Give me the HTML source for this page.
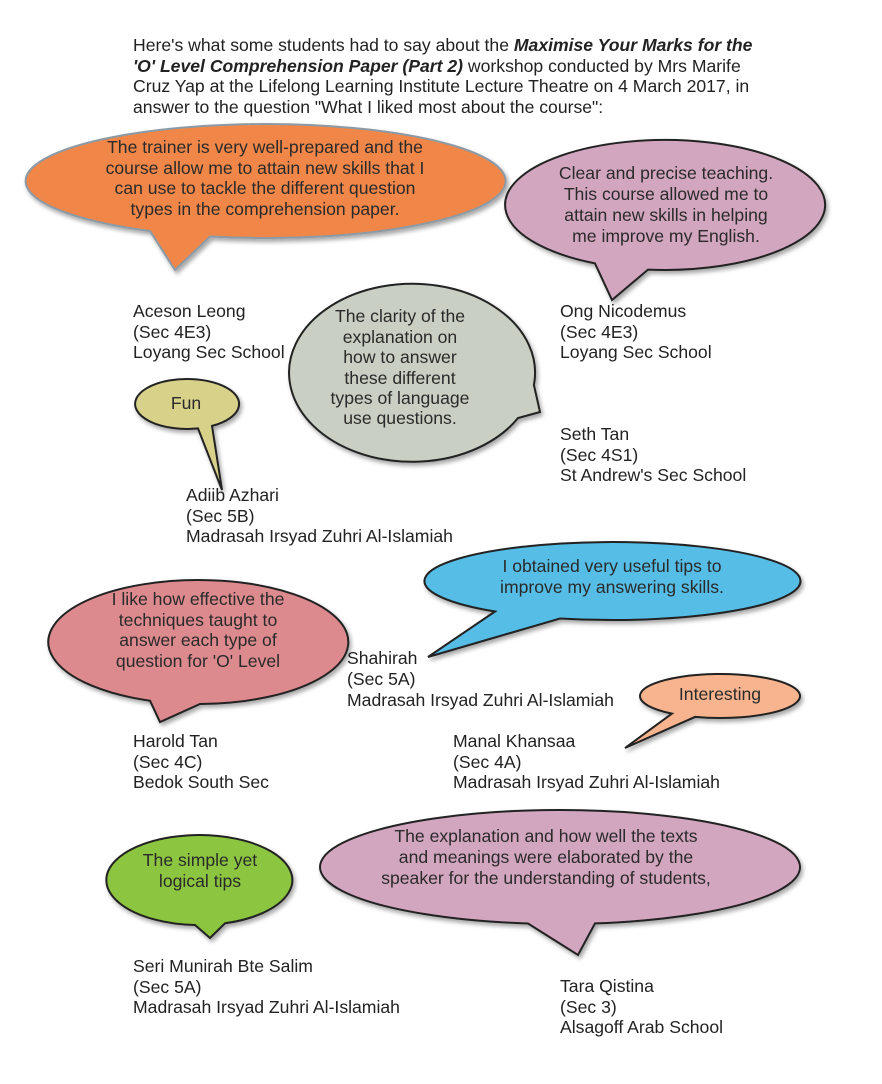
<!DOCTYPE html>
<html><head><meta charset="utf-8"><style>
body{margin:0;background:#fff;}
svg{display:block;}
text{font-family:"Liberation Sans",sans-serif;}
.b{font-size:17.6px;fill:#2a2a2a;text-anchor:middle;}
.n{font-size:17.6px;fill:#222;}
.s{stroke:#222;stroke-width:2;}
</style></head><body>
<svg width="882" height="1084" viewBox="0 0 882 1084" xmlns="http://www.w3.org/2000/svg">
<defs><filter id="sh" x="-10%" y="-10%" width="130%" height="140%"><feDropShadow dx="2" dy="3" stdDeviation="2" flood-color="#000" flood-opacity="0.35"/></filter></defs>
<g class="n">
<text x="133" y="51">Here's what some students had to say about the <tspan font-weight="bold" font-style="italic">Maximise Your Marks for the</tspan></text>
<text x="133" y="72"><tspan font-weight="bold" font-style="italic">'O' Level Comprehension Paper (Part 2)</tspan> workshop conducted by Mrs Marife</text>
<text x="133" y="92">Cruz Yap at the Lifelong Learning Institute Lecture Theatre on 4 March 2017, in</text>
<text x="133" y="113">answer to the question "What I liked most about the course":</text>
</g>
<!-- orange -->
<path filter="url(#sh)" d="M150,231 L175,270 L210,236.5 A240,57 0 1 0 150,231 Z" fill="#f0874a" stroke="#8c9aa6" stroke-width="2"/>
<g class="b"><text x="265" y="153">The trainer is very well-prepared and the</text><text x="265" y="174">course allow me to attain new skills that I</text><text x="265" y="194">can use to tackle the different question</text><text x="265" y="215">types in the comprehension paper.</text></g>
<!-- pink top right -->
<path filter="url(#sh)" class="s" d="M595,263.4 L612,300 L648,269.6 A160,65 0 1 0 595,263.4 Z" fill="#d3a6c0"/>
<g class="b"><text x="666" y="179">Clear and precise teaching.</text><text x="666" y="200">This course allowed me to</text><text x="666" y="221">attain new skills in helping</text><text x="666" y="242">me improve my English.</text></g>
<!-- gray -->
<path filter="url(#sh)" class="s" d="M533.9,385 L540,412 L518,418 A123,89 0 1 1 533.9,385 Z" fill="#c9cfc2"/>
<g class="b"><text x="400" y="322">The clarity of the</text><text x="400" y="343">explanation on</text><text x="400" y="363">how to answer</text><text x="400" y="384">these different</text><text x="400" y="404">types of language</text><text x="400" y="424">use questions.</text></g>
<!-- fun -->
<path filter="url(#sh)" class="s" d="M198,428.4 L222,490 L212,425.9 A52,25 0 1 0 198,428.4 Z" fill="#d8d18a"/>
<text class="b" x="186" y="409">Fun</text>
<!-- blue -->
<path filter="url(#sh)" class="s" d="M495,611.5 L428,657 L560,618.5 A188,39 0 1 0 495,611.5 Z" fill="#54bde6"/>
<g class="b"><text x="612" y="572">I obtained very useful tips to</text><text x="612" y="593">improve my answering skills.</text></g>
<!-- red -->
<path filter="url(#sh)" class="s" d="M150,700.7 L160,722 L200,704 A150,62 0 1 0 150,700.7 Z" fill="#dc8a8e"/>
<g class="b"><text x="198" y="605">I like how effective the</text><text x="198" y="626">techniques taught to</text><text x="198" y="646">answer each type of</text><text x="198" y="667">question for 'O' Level</text></g>
<!-- interesting -->
<path filter="url(#sh)" class="s" d="M672,713.6 L625,748 L695,716.9 A80,22 0 1 0 672,713.6 Z" fill="#f8b48e"/>
<text class="b" x="720" y="700">Interesting</text>
<!-- green -->
<path filter="url(#sh)" class="s" d="M195,925 L210,938 L225,923.3 A93,45 0 1 0 195,925 Z" fill="#8cc53f"/>
<g class="b"><text x="200" y="866">The simple yet</text><text x="200" y="887">logical tips</text></g>
<!-- pink bottom -->
<path filter="url(#sh)" class="s" d="M528,923.5 L578,955 L595,923.4 A240,57 0 1 0 528,923.5 Z" fill="#d3a6c0"/>
<g class="b"><text x="546" y="842">The explanation and how well the texts</text><text x="546" y="863">and meanings were elaborated by the</text><text x="546" y="884">speaker for the understanding of students,</text></g>
<!-- names -->
<g class="n">
<text x="133" y="317">Aceson Leong</text><text x="133" y="338">(Sec 4E3)</text><text x="133" y="358">Loyang Sec School</text>
<text x="560" y="317">Ong Nicodemus</text><text x="560" y="338">(Sec 4E3)</text><text x="560" y="358">Loyang Sec School</text>
<text x="560" y="440">Seth Tan</text><text x="560" y="461">(Sec 4S1)</text><text x="560" y="481">St Andrew's Sec School</text>
<text x="186" y="501">Adiib Azhari</text><text x="186" y="522">(Sec 5B)</text><text x="186" y="542">Madrasah Irsyad Zuhri Al-Islamiah</text>
<text x="347" y="664">Shahirah</text><text x="347" y="685">(Sec 5A)</text><text x="347" y="706">Madrasah Irsyad Zuhri Al-Islamiah</text>
<text x="133" y="747">Harold Tan</text><text x="133" y="768">(Sec 4C)</text><text x="133" y="788">Bedok South Sec</text>
<text x="453" y="747">Manal Khansaa</text><text x="453" y="768">(Sec 4A)</text><text x="453" y="788">Madrasah Irsyad Zuhri Al-Islamiah</text>
<text x="133" y="972">Seri Munirah Bte Salim</text><text x="133" y="993">(Sec 5A)</text><text x="133" y="1013">Madrasah Irsyad Zuhri Al-Islamiah</text>
<text x="560" y="992">Tara Qistina</text><text x="560" y="1013">(Sec 3)</text><text x="560" y="1033">Alsagoff Arab School</text>
</g>
</svg>
</body></html>
